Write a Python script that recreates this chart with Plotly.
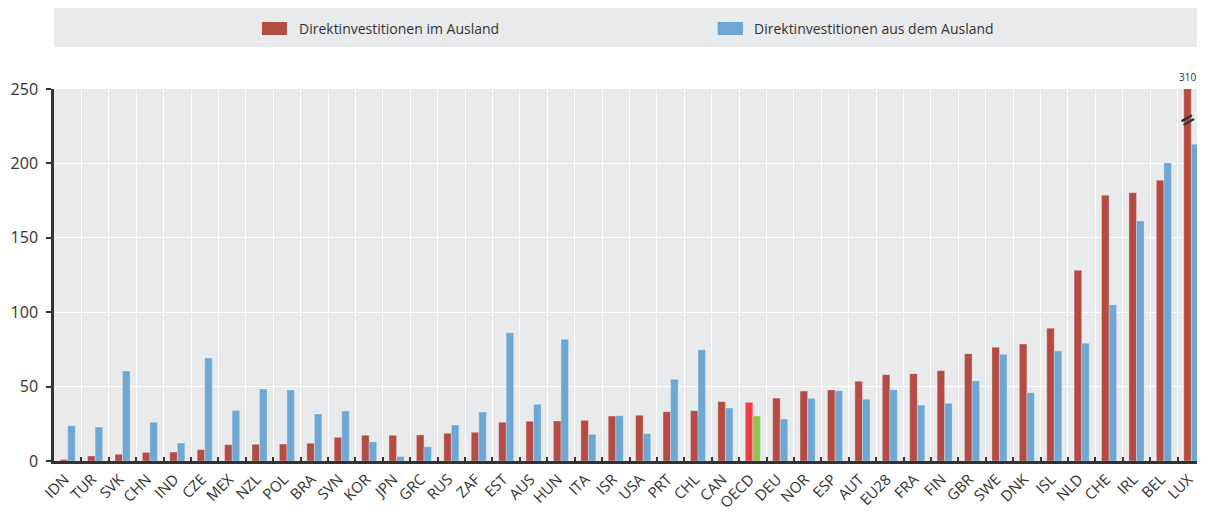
import plotly.graph_objects as go

countries = ["IDN", "TUR", "SVK", "CHN", "IND", "CZE", "MEX", "NZL", "POL", "BRA",
             "SVN", "KOR", "JPN", "GRC", "RUS", "ZAF", "EST", "AUS", "HUN", "ITA",
             "ISR", "USA", "PRT", "CHL", "CAN", "OECD", "DEU", "NOR", "ESP", "AUT",
             "EU28", "FRA", "FIN", "GBR", "SWE", "DNK", "ISL", "NLD", "CHE", "IRL",
             "BEL", "LUX"]

outward = [1.0, 3.4, 4.5, 5.8, 6.0, 7.6, 11.0, 11.2, 11.4, 11.9,
           15.9, 17.3, 17.3, 17.5, 18.6, 19.3, 26.0, 26.7, 26.9, 27.3,
           30.2, 30.7, 33.1, 33.8, 39.9, 39.4, 42.3, 47.0, 47.7, 53.6,
           58.0, 58.7, 60.7, 72.1, 76.4, 78.6, 89.2, 128.2, 178.6, 180.3,
           188.6, 310.0]

inward = [23.7, 22.8, 60.5, 26.0, 12.1, 69.2, 34.0, 48.4, 47.7, 31.6,
          33.6, 12.8, 3.0, 9.6, 24.2, 32.9, 86.2, 38.1, 81.8, 17.9,
          30.4, 18.4, 54.9, 74.8, 35.6, 30.2, 28.2, 42.1, 47.2, 41.5,
          47.9, 37.6, 38.8, 53.8, 71.7, 45.9, 73.9, 79.1, 105.0, 161.3,
          200.3, 212.8]

series_names = ["Direktinvestitionen im Ausland", "Direktinvestitionen aus dem Ausland"]
y_ticks = [0, 50, 100, 150, 200, 250]
highlight = "OECD"
lux_label = "310"

RED = "#b44c43"
BLUE = "#6fa7d3"
RED_HI = "#ef3f45"
GREEN_HI = "#8fc450"

red_colors = [RED_HI if c == highlight else RED for c in countries]
blue_colors = [GREEN_HI if c == highlight else BLUE for c in countries]

FONT = "Open Sans, Liberation Sans, sans-serif"

fig = go.Figure()
fig.add_trace(go.Bar(
    x=countries, y=outward, name=series_names[0], showlegend=False,
    marker=dict(color=red_colors, line=dict(color="rgba(255,255,255,0.35)", width=0.8)),
    cliponaxis=True,
))
fig.add_trace(go.Bar(
    x=countries, y=inward, name=series_names[1], showlegend=False,
    marker=dict(color=blue_colors, line=dict(color="rgba(255,255,255,0.35)", width=0.8)),
))

# legend band with swatches and labels
fig.add_shape(type="rect", xref="paper", yref="paper", x0=0, x1=1.0,
              y0=1.113, y1=1.218, fillcolor="#e9eaec", line=dict(width=0), layer="below")
legend_items = [(0.1807, 0.2024, 0.2111, RED, series_names[0]),
                (0.5766, 0.5986, 0.6064, BLUE, series_names[1])]
for x0, x1, xt, col, name in legend_items:
    fig.add_shape(type="rect", xref="paper", yref="paper", x0=x0, x1=x1,
                  y0=1.1452, y1=1.1801, fillcolor=col, line=dict(width=0))
    fig.add_annotation(x=xt, y=1.1626, xref="paper", yref="paper", text=name,
                       showarrow=False, xanchor="left", yanchor="middle",
                       font=dict(family=FONT, size=14, color="#333"))

fig.add_annotation(x="LUX", y=1.0, xref="x", yref="paper", text=lux_label,
                   showarrow=False, xshift=-4, yanchor="bottom", yshift=3,
                   font=dict(family=FONT, size=10, color="#333"))
fig.add_annotation(x="LUX", y=230, xref="x", yref="y", text="<b>=</b>",
                   showarrow=False, xshift=-4, textangle=-30,
                   font=dict(family="DejaVu Sans", size=19, color="#333"))

# page body has an 8px default margin; the figure is sized to fit the 1205x512 window
fig.update_layout(
    width=1197, height=504,
    margin=dict(l=46, r=0, t=81, b=51, autoexpand=False),
    paper_bgcolor="white",
    plot_bgcolor="#e9eaec",
    barmode="group",
    bargap=0.45,
    bargroupgap=0.0,
    showlegend=False,
    font=dict(family=FONT, size=14, color="#333"),
    xaxis=dict(type="category", tickson="boundaries", showgrid=True, gridcolor="white",
               gridwidth=1, ticks="inside", ticklen=4, tickcolor="#333", tickwidth=2,
               showline=True, linecolor="#333", linewidth=2.5, tickangle=-45,
               automargin=False, ticklabelshift=-3, ticklabelstandoff=1,
               tickfont=dict(family=FONT, size=15, color="#333")),
    yaxis=dict(range=[0, 250], tickvals=y_ticks, showgrid=True, gridcolor="white",
               gridwidth=1, ticks="outside", ticklen=5, tickcolor="#333", tickwidth=2,
               showline=True, linecolor="#333", linewidth=2.5, zeroline=False,
               automargin=False, ticklabelstandoff=5,
               tickfont=dict(family=FONT, size=16, color="#333")),
)

fig.write_html("out.html")
